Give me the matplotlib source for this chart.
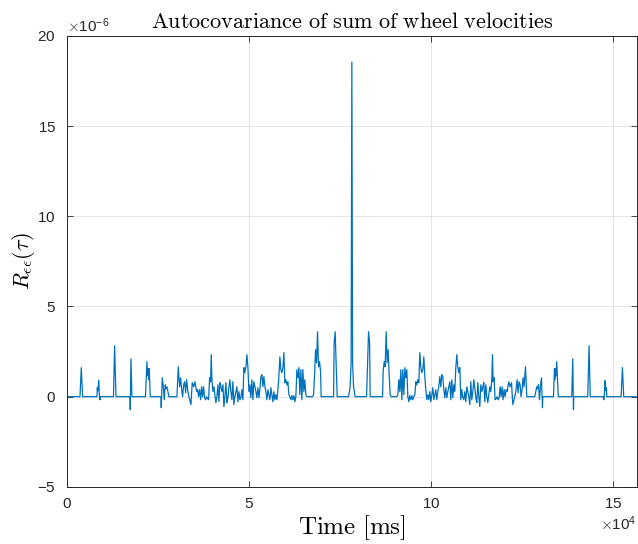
import matplotlib
matplotlib.use('Agg')
import matplotlib.pyplot as plt
import numpy as np

plt.rcParams['mathtext.fontset'] = 'cm'
plt.rcParams['font.family'] = ['Liberation Sans', 'DejaVu Sans']
plt.rcParams['axes.unicode_minus'] = False

# lag values (ms) and autocovariance (x1e-6) for the left half
lag_left = [0, 3570, 3930, 4290, 8240, 8320, 8520, 8710, 8930, 9070, 9200,
            12770, 13100, 13460, 17310, 17390, 17580, 17860,
            21570, 21980, 22170, 22340, 22530, 22610, 22880,
            25820, 25910, 26180, 26460, 26730, 27010, 27200, 27470, 27750, 28020,
            30220, 30580, 30960, 31240, 31510, 31790, 32060, 32340, 32610, 32880, 33240, 33520,
            34070, 34420, 34810, 35160, 35630, 35910, 36180, 36460, 36730, 37010, 37280,
            37550, 37830, 38100, 38380, 38650, 38930, 39200, 39480, 39640,
            39840, 40110, 40380, 40660, 40930, 41210, 41480, 41760, 42030, 42310, 42580,
            42860, 43130, 43410, 43680, 43960, 44230, 44510, 44780, 45050, 45330, 45600,
            45880, 46150, 46430, 46700, 46980, 47250, 47530, 47800, 48080, 48350,
            48630, 48900, 49180, 49450, 49730, 50000, 50270, 50550, 50820, 51100,
            51370, 51650, 51920, 52200, 52470, 52750, 53020, 53300, 53570, 53850,
            54120, 54400, 54670, 54950, 55220, 55490, 55770, 56040, 56320, 56590,
            56870, 57140, 57420, 57690, 57970, 58240, 58520, 58790, 59070, 59340,
            59620, 59890, 60160, 60440, 60710, 60990, 61260, 61540, 61810, 62090,
            62360, 62640, 62910, 63190, 63460, 63740, 64010, 64290, 64560, 64840,
            65110, 65380, 65660, 65930, 67500, 67770, 68050, 68320, 68600, 68870,
            69150, 69420, 69700, 69860, 73270, 73430, 73710, 73980, 74260,
            77390, 77830, 78100]
val_left = [0, 0, 1.61, 0, 0, 0.50, 0.33, 0.89, 0, -0.17, 0,
            0, 2.82, 0, 0, -0.72, 2.10, 0,
            0, 1.94, 1.16, 1.55, 0.94, 1.55, 0,
            0, -0.61, 1.05, 0.61, -0.17, 0.66, 0.44, 0.55, 0.28, 0,
            0, 1.66, 0.55, 1.05, 0.39, 0, 0.66, 0.83, 0.22, 0.94, 0.28, 0,
            -0.44, 0.78, 0.55, 0.83, 0.28, 0.39, 0, 0.39, -0.17, 0.55, 0,
            0.55, -0.06, -0.17, 0, -0.11, -0.17, 1.05, 0.83, 2.33,
            0.94, 0.28, 0.55, 0.11, -0.33, 0, 0.66, -0.28, 0.78, 0.55, 0.28,
            0.66, -0.55, 0, 0.78, -0.33, -0.06, 0.50, 0.94, 0.28, -0.17, 0.83,
            -0.44, 0, 0.28, 0.55, -0.28, 0.28, -0.17, -0.06, 0.39, -0.17,
            1.61, 1.33, 1.66, 2.33, 1.61, 0.28, 0.66, -0.06, 0.94, -0.17,
            0.83, 0.55, 0.28, -0.06, 0.50, -0.06, 0.39, 1.11, 1.22, 0.55,
            1.11, 0.55, 0.28, -0.17, 0.39, 0.11, -0.17, 0.50, 0.11, -0.28,
            0.28, -0.17, 0.11, -0.17, 0.39, 1.11, 2.21, 1.50, 1.33, 1.61,
            2.44, 0.78, 0.94, 0.66, 0.83, 0.11, 0, -0.17, 0.06, -0.17,
            0.06, -0.28, 0, 1.50, 1.05, 1.61, 0.11, 1.50, -0.17, 1.50,
            0.28, 0.94, 0.11, 0, 0, 0.11, 1.22, 2.60, 1.88, 3.60,
            1.66, 1.94, 1.38, 0, 0, 2.99, 3.60, 1.88, 0,
            0, 0.55, 1.88]
lag_peak = 78300
val_peak = 18.55

# autocovariance is symmetric about the zero-lag peak
lag_left = np.array(lag_left, dtype=float)
val_left = np.array(val_left)
lag = np.concatenate([lag_left, [lag_peak], 2 * lag_peak - lag_left[::-1]])
val = np.concatenate([val_left, [val_peak], val_left[::-1]]) * 1e-6

fig = plt.figure(figsize=(6.38, 5.44), dpi=100)
ax = fig.add_axes([0.105, 0.105, 0.893, 0.829])
ax.plot(lag, val, color='#0072BD', lw=0.9)

ax.set_xlim(0, 2 * lag_peak)
ax.set_ylim(-5e-6, 20e-6)
ax.set_xticks([0, 5e4, 10e4, 15e4])
ax.set_yticks(np.arange(-5, 21, 5) * 1e-6)
ax.ticklabel_format(axis='x', style='sci', scilimits=(4, 4), useMathText=True)
ax.ticklabel_format(axis='y', style='sci', scilimits=(-6, -6), useMathText=True)
ax.xaxis.get_offset_text().set_fontsize(11)
ax.yaxis.get_offset_text().set_fontsize(11)

ax.grid(True, color='#dfdfdf', lw=0.6)
ax.set_axisbelow(True)
for s in ax.spines.values():
    s.set_color('#262626')
    s.set_linewidth(0.7)
ax.tick_params(direction='in', top=True, right=True, labelsize=11,
               colors='#262626', length=4, width=0.6)
ax.tick_params(axis='x', pad=7)
ax.tick_params(axis='y', pad=8)

ax.set_title(r'$\mathrm{Autocovariance\ of\ sum\ of\ wheel\ velocities}$', fontsize=16)
ax.set_xlabel(r'$\mathrm{Time\ [ms]}$', fontsize=18, labelpad=2)
ax.set_ylabel(r'$R_{\epsilon\epsilon}(\tau)$', fontsize=16, labelpad=0)

fig.savefig('out.png', dpi=100)
